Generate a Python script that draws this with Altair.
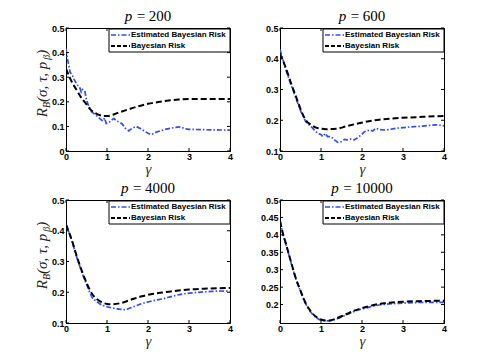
import altair as alt
import pandas as pd

# ---------------- data ----------------
gamma_est_200 = [0, 0.03, 0.065, 0.1, 0.15, 0.2, 0.27, 0.33, 0.37, 0.4, 0.46, 0.5, 0.55, 0.62,
                 0.73, 0.85, 0.9, 0.94, 0.98, 1.04, 1.11, 1.17, 1.23, 1.3, 1.37, 1.45, 1.53,
                 1.61, 1.71, 1.81, 1.9, 2.0, 2.08, 2.22, 2.42, 2.63, 2.8, 2.9, 3.0, 3.5, 4.0]
risk_est_200 = [0.416, 0.38, 0.35, 0.32, 0.31, 0.29, 0.27, 0.26, 0.24, 0.25, 0.245, 0.205, 0.185,
                0.16, 0.146, 0.128, 0.122, 0.134, 0.112, 0.115, 0.126, 0.132, 0.122, 0.118, 0.11,
                0.092, 0.082, 0.092, 0.1, 0.092, 0.082, 0.072, 0.067, 0.078, 0.088, 0.095, 0.098,
                0.09, 0.088, 0.086, 0.085]
gamma_bay_200 = [0, 0.1, 0.25, 0.4, 0.5, 0.6, 0.75, 0.9, 1.0, 1.1, 1.25, 1.5, 1.75, 2.0, 2.25,
                 2.5, 2.75, 3.0, 3.5, 4.0]
risk_bay_200 = [0.335, 0.295, 0.25, 0.21, 0.19, 0.168, 0.151, 0.143, 0.142, 0.145, 0.154, 0.168,
                0.181, 0.192, 0.199, 0.205, 0.209, 0.211, 0.211, 0.211]

gamma_est_600 = [0, 0.146, 0.27, 0.39, 0.51, 0.63, 0.76, 0.84, 0.92, 1.0, 1.04, 1.1, 1.16, 1.24,
                 1.33, 1.41, 1.49, 1.57, 1.65, 1.73, 1.81, 1.89, 1.98, 2.06, 2.18, 2.26, 2.34,
                 2.42, 2.59, 2.83, 3.15, 3.48, 3.8, 4.0]
risk_est_600 = [0.43, 0.363, 0.315, 0.271, 0.228, 0.195, 0.179, 0.168, 0.157, 0.154, 0.147, 0.157,
                0.147, 0.147, 0.136, 0.128, 0.13, 0.138, 0.136, 0.139, 0.136, 0.143, 0.152, 0.163,
                0.168, 0.165, 0.174, 0.17, 0.168, 0.174, 0.178, 0.181, 0.185, 0.182]
gamma_bay_600 = [0, 0.146, 0.27, 0.39, 0.51, 0.63, 0.76, 0.88, 1.0, 1.12, 1.37, 1.61, 1.85, 2.02,
                 2.26, 2.5, 2.99, 3.48, 4.0]
risk_bay_600 = [0.417, 0.369, 0.32, 0.277, 0.233, 0.2, 0.185, 0.176, 0.173, 0.171, 0.172, 0.18,
                0.188, 0.193, 0.199, 0.203, 0.208, 0.211, 0.214]

gamma_est_4000 = [0, 0.146, 0.27, 0.39, 0.51, 0.63, 0.76, 0.88, 1.0, 1.12, 1.24, 1.37, 1.45, 1.53,
                  1.69, 1.85, 2.02, 2.18, 2.34, 2.59, 2.83, 3.15, 3.48, 3.8, 4.0]
risk_est_4000 = [0.42, 0.366, 0.311, 0.264, 0.223, 0.185, 0.169, 0.158, 0.153, 0.149, 0.146, 0.144,
                 0.143, 0.147, 0.155, 0.163, 0.169, 0.174, 0.178, 0.187, 0.194, 0.199, 0.202,
                 0.204, 0.203]
gamma_bay_4000 = [0, 0.146, 0.27, 0.39, 0.51, 0.63, 0.76, 0.88, 1.0, 1.12, 1.37, 1.61, 1.85, 2.1,
                  2.34, 2.59, 2.99, 3.48, 4.0]
risk_bay_4000 = [0.42, 0.368, 0.314, 0.268, 0.228, 0.196, 0.177, 0.167, 0.162, 0.161, 0.166, 0.177,
                 0.187, 0.194, 0.199, 0.203, 0.209, 0.212, 0.214]

gamma_10000 = [0, 0.065, 0.146, 0.27, 0.39, 0.51, 0.63, 0.76, 0.88, 1.0, 1.12, 1.24, 1.37, 1.61,
               1.85, 2.1, 2.34, 2.59, 2.99, 3.48, 4.0]
risk_est_10000 = [0.44, 0.405, 0.372, 0.32, 0.272, 0.235, 0.201, 0.177, 0.163, 0.155, 0.153, 0.154,
                  0.158, 0.17, 0.182, 0.19, 0.197, 0.201, 0.204, 0.206, 0.206]
risk_bay_10000 = [0.44, 0.407, 0.374, 0.322, 0.274, 0.237, 0.203, 0.179, 0.165, 0.157, 0.154, 0.155,
                  0.16, 0.172, 0.184, 0.193, 0.2, 0.204, 0.208, 0.21, 0.211]

x_ticks = [0, 1, 2, 3, 4]
y_ticks_a = [0, 0.1, 0.2, 0.3, 0.4, 0.5]
y_ticks_b = [0.1, 0.2, 0.3, 0.4, 0.5]
y_ticks_d = [0.2, 0.25, 0.3, 0.35, 0.4, 0.45, 0.5]
legend_labels = ["Estimated Bayesian Risk", "Bayesian Risk"]

# ---------------- style ----------------
W, H = 164, 123
SANS = "Liberation Sans"
SERIF = "Liberation Serif"
BLUE = "#2e4cff"
BLUE_DASH = [5, 2, 1.5, 2]
BLACK_DASH = [6, 3]
TICK = 3


def one():
    return pd.DataFrame({"k": [0]})


def title_layers(num):
    fs = 15
    pw = 0.5 * fs
    gap = 0.3 * fs
    rest = "= " + num
    rw = (0.564 + 0.25 + 0.5 * len(num)) * fs
    x0 = W / 2 - (pw + gap + rw) / 2
    p_txt = alt.Chart(one()).mark_text(align="left", baseline="middle", font=SERIF,
                                       fontSize=fs, fontStyle="italic", color="black").encode(
        x=alt.value(x0), y=alt.value(-12), text=alt.value("p"))
    r_txt = alt.Chart(one()).mark_text(align="left", baseline="middle", font=SERIF,
                                       fontSize=fs, color="black").encode(
        x=alt.value(x0 + pw + gap), y=alt.value(-12), text=alt.value(rest))
    return [p_txt, r_txt]


def ytitle_layers():
    # R_B(σ, τ, p_β) built from pieces (main size 15, subscripts 10)
    pieces = [("R", 15, 9.2), ("B", 10, 6.1), ("(σ, τ, p", 15, 42.3), ("β", 10, 5.0), (")", 15, 5.0)]
    total = sum(p[2] for p in pieces)
    y = H / 2 - 6 + total / 2
    out = []
    for txt, fs, w in pieces:
        xb = -19 if fs == 15 else -16
        out.append(alt.Chart(one()).mark_text(align="left", baseline="alphabetic", angle=270,
                                              font=SERIF, fontSize=fs, fontStyle="italic",
                                              color="#222").encode(
            x=alt.value(xb), y=alt.value(y), text=alt.value(txt)))
        y -= w
    return out


def legend_layers():
    x0 = W - 121
    box = alt.Chart(one()).mark_rect(fill="white", stroke="black", strokeWidth=1).encode(
        x=alt.value(x0), x2=alt.value(W), y=alt.value(1), y2=alt.value(24))
    l1 = alt.Chart(one()).mark_rule(color=BLUE, strokeWidth=1.5, strokeDash=BLUE_DASH).encode(
        x=alt.value(x0 + 2), x2=alt.value(x0 + 21), y=alt.value(7))
    l2 = alt.Chart(one()).mark_rule(color="black", strokeWidth=2, strokeDash=[4, 2]).encode(
        x=alt.value(x0 + 2), x2=alt.value(x0 + 21), y=alt.value(18))
    t1 = alt.Chart(one()).mark_text(align="left", baseline="middle", font=SANS, fontWeight="bold",
                                    fontSize=8, color="black").encode(
        x=alt.value(x0 + 22), y=alt.value(7), text=alt.value(legend_labels[0]))
    t2 = alt.Chart(one()).mark_text(align="left", baseline="middle", font=SANS, fontWeight="bold",
                                    fontSize=8, color="black").encode(
        x=alt.value(x0 + 22), y=alt.value(18), text=alt.value(legend_labels[1]))
    return [box, l1, l2, t1, t2]


def tick_layers(yticks, xenc, yenc):
    # inward ticks on all four sides (MATLAB box style)
    xt = pd.DataFrame({"g": x_ticks})
    yt = pd.DataFrame({"r": yticks})
    bx = alt.Chart(xt).mark_rule(color="black", strokeWidth=1).encode(
        x=xenc, y=alt.value(H), y2=alt.value(H - TICK))
    tx = alt.Chart(xt).mark_rule(color="black", strokeWidth=1).encode(
        x=xenc, y=alt.value(0), y2=alt.value(TICK))
    ly = alt.Chart(yt).mark_rule(color="black", strokeWidth=1).encode(
        y=yenc, x=alt.value(0), x2=alt.value(TICK))
    ry = alt.Chart(yt).mark_rule(color="black", strokeWidth=1).encode(
        y=yenc, x=alt.value(W - TICK), x2=alt.value(W))
    return [bx, tx, ly, ry]


def panel(num, ge, re, gb, rb, ydom, yticks, left, est_interp):
    est = pd.DataFrame({"g": ge, "r": re})
    bay = pd.DataFrame({"g": gb, "r": rb})
    xenc = alt.X("g:Q", scale=alt.Scale(domain=[0, 4], nice=False, zero=False),
                 axis=alt.Axis(values=x_ticks, format="d", title="γ", titleFont=SERIF,
                               titleFontSize=15, titleFontStyle="italic", titleFontWeight="normal",
                               titleColor="#333", titlePadding=0, labelFlush=False,
                               labelPadding=1, labelOverlap=False))
    yenc = alt.Y("r:Q", scale=alt.Scale(domain=ydom, nice=False, zero=False),
                 axis=alt.Axis(values=yticks, format="~g", title=None, labelFlush=False,
                               labelOverlap=False, labelPadding=2))
    l_est = alt.Chart(est).mark_line(color=BLUE, strokeWidth=1.7, strokeDash=BLUE_DASH,
                                     interpolate=est_interp, clip=True).encode(x=xenc, y=yenc)
    l_bay = alt.Chart(bay).mark_line(color="black", strokeWidth=2, strokeDash=BLACK_DASH,
                                     interpolate="monotone", clip=True).encode(x=xenc, y=yenc)
    layers = [l_est, l_bay] + tick_layers(yticks, xenc, yenc) + legend_layers() + title_layers(num)
    if left:
        layers += ytitle_layers()
    return alt.layer(*layers).properties(width=W, height=H)


p1 = panel("200", gamma_est_200, risk_est_200, gamma_bay_200, risk_bay_200, [0, 0.5], y_ticks_a, True, "linear")
p2 = panel("600", gamma_est_600, risk_est_600, gamma_bay_600, risk_bay_600, [0.1, 0.5], y_ticks_b, False, "linear")
p3 = panel("4000", gamma_est_4000, risk_est_4000, gamma_bay_4000, risk_bay_4000, [0.1, 0.5], y_ticks_b, True, "monotone")
p4 = panel("10000", gamma_10000, risk_est_10000, gamma_10000, risk_bay_10000, [0.147, 0.5], y_ticks_d, False, "monotone")

chart = alt.concat(
    p1, p2, p3, p4, columns=2, spacing={"row": 3, "column": 25}
).properties(
    padding={"left": 26, "top": 0, "right": 0, "bottom": 0},
    background="white",
).configure_view(
    stroke="black", strokeWidth=1
).configure_axis(
    labelFont=SANS, labelFontWeight="bold", labelFontSize=9, labelColor="black",
    ticks=False, domainColor="black", domainWidth=1, grid=False, labelOverlap=False,
)

chart.save("out.html", embed_options={"renderer": "svg", "actions": False})
